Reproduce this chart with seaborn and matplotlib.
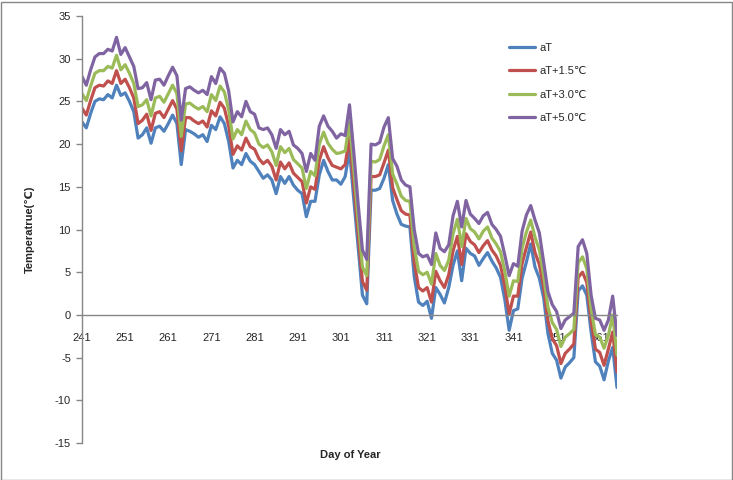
import numpy as np
import pandas as pd
import matplotlib
matplotlib.use("Agg")
import matplotlib.pyplot as plt
import seaborn as sns
from matplotlib.patches import Rectangle

days = list(range(241, 366))

aT = [22.6, 21.9, 23.6, 25.0, 25.3, 25.2, 25.8, 25.4, 26.9, 25.7,
      26.0, 25.0, 23.8, 20.7, 21.1, 21.9, 20.1, 21.9, 22.1, 21.5,
      22.4, 23.4, 22.4, 17.6, 21.7, 21.5, 21.2, 20.8, 21.1, 20.3,
      22.2, 21.7, 23.2, 22.4, 20.3, 17.2, 18.1, 17.6, 18.9, 18.0,
      17.6, 16.8, 16.0, 16.4, 15.8, 14.2, 16.2, 15.4, 16.2, 15.2,
      14.6, 14.2, 11.5, 13.3, 13.3, 16.4, 18.1, 16.8, 15.8, 15.8,
      15.3, 16.2, 19.3, 13.5, 8.0, 2.3, 1.3, 14.6, 14.6, 14.8,
      16.0, 17.6, 13.4, 11.8, 10.6, 10.4, 10.3, 4.5, 1.5, 1.1,
      1.6, -0.4, 3.2, 2.4, 1.4, 3.2, 5.8, 7.5, 4.0, 7.8,
      7.2, 6.9, 5.8, 6.6, 7.3, 6.3, 5.5, 4.4, 1.8, -1.8,
      0.5, 0.7, 4.3, 6.2, 8.3, 5.6, 4.3, 2.0, -2.2, -4.5,
      -5.3, -7.4, -6.1, -5.6, -5.0, 2.8, 3.4, 2.3, -2.0, -5.5,
      -6.0, -7.6, -5.4, -3.8, -8.5]

aT15 = [24.2, 23.4, 25.1, 26.6, 26.9, 26.8, 27.4, 27.1, 28.6, 27.1,
        27.6, 26.6, 25.4, 22.4, 22.8, 23.5, 21.6, 23.6, 23.8, 23.1,
        24.1, 25.1, 24.1, 19.2, 23.1, 23.1, 22.7, 22.4, 22.7, 22.0,
        23.9, 23.3, 24.9, 24.2, 22.1, 18.8, 19.8, 19.3, 20.7, 19.7,
        19.4, 18.3, 17.7, 18.1, 17.4, 15.8, 17.9, 17.1, 17.8, 16.6,
        16.1, 15.6, 13.1, 15.0, 14.7, 18.1, 19.7, 18.4, 17.5, 17.3,
        17.1, 17.6, 20.9, 15.2, 9.5, 3.9, 2.9, 16.2, 16.2, 16.4,
        17.8, 19.3, 14.9, 13.5, 12.2, 11.8, 11.7, 6.2, 3.2, 2.8,
        3.2, 1.5, 5.1, 4.0, 3.2, 4.7, 7.5, 9.2, 5.9, 9.5,
        8.6, 8.2, 7.3, 8.1, 8.7, 7.6, 6.9, 5.8, 3.4, 0.1,
        2.2, 2.2, 6.0, 7.9, 9.7, 7.3, 5.9, 3.3, -0.7, -2.8,
        -3.6, -5.7, -4.5, -4.0, -3.4, 4.4, 5.0, 3.8, -0.7, -4.0,
        -4.4, -5.9, -4.0, -2.0, -6.7]

aT30 = [25.9, 25.1, 26.8, 28.3, 28.6, 28.6, 29.1, 28.9, 30.4, 28.7,
        29.3, 28.3, 27.1, 24.4, 24.6, 25.2, 23.3, 25.4, 25.6, 24.9,
        25.9, 26.9, 25.9, 20.9, 24.7, 24.8, 24.4, 24.1, 24.4, 23.8,
        25.8, 25.1, 26.8, 26.1, 24.0, 20.6, 21.7, 21.1, 22.7, 21.7,
        21.3, 20.0, 19.6, 19.9, 19.1, 17.5, 19.7, 19.0, 19.5, 18.2,
        17.7, 17.2, 14.8, 16.8, 16.3, 20.0, 21.4, 20.1, 19.4, 18.9,
        19.0, 19.2, 22.6, 17.0, 11.2, 5.6, 4.6, 18.0, 17.9, 18.2,
        19.8, 21.1, 16.5, 15.3, 13.9, 13.4, 13.3, 8.0, 5.1, 4.7,
        5.0, 3.6, 7.2, 5.8, 5.2, 6.4, 9.5, 11.2, 8.0, 11.3,
        10.1, 9.7, 8.9, 9.8, 10.3, 9.0, 8.3, 7.4, 5.1, 2.2,
        4.0, 3.9, 7.8, 9.7, 11.1, 9.1, 7.6, 4.6, 0.9, -0.9,
        -1.7, -3.7, -2.6, -2.2, -1.7, 6.1, 6.8, 5.4, 0.7, -2.3,
        -2.6, -3.9, -2.4, 0.0, -4.7]

aT50 = [27.9, 26.9, 28.7, 30.2, 30.6, 30.6, 31.1, 30.9, 32.5, 30.5,
        31.3, 30.2, 29.1, 26.5, 26.6, 27.2, 25.2, 27.5, 27.6, 26.9,
        28.0, 29.0, 28.0, 22.8, 26.5, 26.7, 26.3, 26.0, 26.3, 25.8,
        27.9, 27.1, 28.9, 28.3, 26.2, 22.6, 23.8, 23.2, 25.0, 23.8,
        23.5, 21.9, 21.7, 21.9, 21.1, 19.5, 21.7, 21.1, 21.5, 19.9,
        19.5, 18.9, 16.8, 18.9, 18.1, 22.1, 23.3, 22.1, 21.5, 20.7,
        21.2, 21.0, 24.6, 19.0, 13.0, 7.6, 6.5, 20.0, 19.9, 20.2,
        22.0, 23.1, 18.3, 17.4, 15.8, 15.2, 15.0, 10.0, 7.2, 6.8,
        7.0, 5.9, 9.6, 7.8, 7.4, 8.2, 11.6, 13.3, 10.3, 13.4,
        11.8, 11.3, 10.7, 11.6, 12.0, 10.6, 10.0, 9.2, 7.0, 4.6,
        6.0, 5.7, 9.8, 11.7, 12.8, 11.1, 9.6, 6.2, 2.7, 1.2,
        0.4, -1.6, -0.6, -0.2, 0.2, 8.0, 8.8, 7.2, 2.3, -0.4,
        -0.6, -1.8, -0.6, 2.2, -2.4]

series_names = ["aT", "aT+1.5\u2103", "aT+3.0\u2103", "aT+5.0\u2103"]
colors = ["#4F81BD", "#C0504D", "#9BBB59", "#8064A2"]
yticks = list(range(-15, 40, 5))
xticks = list(range(241, 366, 10))

frames = []
for name, vals in zip(series_names, [aT, aT15, aT30, aT50]):
    frames.append(pd.DataFrame({"day": days, "temp": vals, "series": name}))
df = pd.concat(frames, ignore_index=True)

sns.set_style("white")
plt.rcParams["font.family"] = ["Liberation Sans", "DejaVu Sans", "Noto Sans CJK SC"]
plt.rcParams["axes.unicode_minus"] = False

W, H = 733, 480
fig = plt.figure(figsize=(W / 100, H / 100), dpi=100)
x0, x1, yt, yb = 82, 617, 16, 443
ax = fig.add_axes([x0 / W, 1 - yb / H, (x1 - x0) / W, (yb - yt) / H])

sns.lineplot(data=df, x="day", y="temp", hue="series", palette=dict(zip(series_names, colors)),
             linewidth=2.3, ax=ax, legend=True, sort=False)

ax.set_xlim(241, 365)
ax.set_ylim(-15, 35)
ax.set_yticks(yticks)
ax.set_xticks(xticks)
ax.set_xticklabels([str(t) for t in xticks])

gray = "#868686"
for s in ["top", "right"]:
    ax.spines[s].set_visible(False)
ax.spines["left"].set_color(gray)
ax.spines["left"].set_linewidth(1)
ax.spines["bottom"].set_position(("data", 0))
ax.spines["bottom"].set_color(gray)
ax.spines["bottom"].set_linewidth(1)

ax.tick_params(axis="y", direction="out", length=4, width=1, color=gray, labelsize=8, pad=4, left=True)
ax.tick_params(axis="x", length=0, labelsize=8, pad=13, bottom=True)
ax.set_xlabel("")
ax.set_ylabel("Temperatrue(\u2103)", fontsize=8, fontweight="bold")
ax.yaxis.set_label_coords(-0.088, 0.5)
fig.text(350 / W, 1 - 455 / H, "Day of Year", fontsize=8, fontweight="bold", ha="center", va="center")

handles, labels = ax.get_legend_handles_labels()
ax.legend(handles, labels, loc="upper left", bbox_to_anchor=(509 / W, 1 - 43 / H),
          bbox_transform=fig.transFigure, frameon=False, fontsize=8,
          handlelength=2.3, handletextpad=0.4, labelspacing=1.2, borderpad=0, borderaxespad=0)
for line in ax.get_legend().get_lines():
    line.set_linewidth(2.3)

fig.patches.append(Rectangle((0.5 / W, 0.5 / H), (W - 1.5) / W, (H - 2) / H, transform=fig.transFigure,
                             fill=False, edgecolor=gray, linewidth=1))

fig.savefig("out.png", dpi=100)
